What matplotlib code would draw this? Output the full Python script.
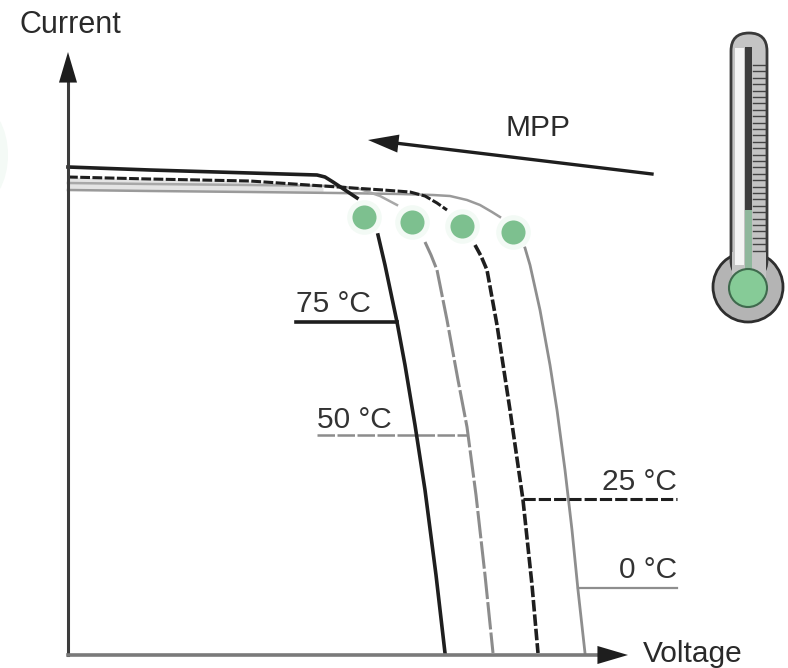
#!/usr/bin/env python3
"""
I-V curves of a solar cell at four temperatures, with the MPP shift and a thermometer.
Curve values are read off the picture, in picture pixels (y grows downwards).
"""

import numpy as np
import matplotlib

matplotlib.use("Agg")
import matplotlib.pyplot as plt
from matplotlib.patches import Circle, Ellipse, FancyBboxPatch, Rectangle

plt.rcParams["font.family"] = ["Liberation Sans", "DejaVu Sans"]

# upper part of each curve (flat, down to the dot), lower part (dot to the axis)
v0_top = [68, 150, 250, 337, 400, 433, 450, 467, 480, 492, 500]
i0_top = [190, 191, 192, 193, 194, 195, 196, 200, 205, 212, 217]
v0_low = [525, 530, 540, 550, 557, 565, 572, 578, 585]
i0_low = [248, 265, 310, 365, 410, 470, 530, 590, 653]

v25_top = [68, 150, 250, 323, 383, 410, 425, 437, 447]
i25_top = [177, 179, 181, 186, 190, 192, 196, 203, 210]
v25_low = [475, 481, 487, 497, 510, 523, 532, 538]
i25_low = [245, 256, 270, 325, 410, 500, 585, 653]

v50_top = [68, 150, 250, 337, 360, 380, 397]
i50_top = [183, 184, 185, 186, 189, 196, 205]
v50_low = [425, 431, 437, 447, 458, 467, 476, 485, 493]
i50_low = [242, 255, 270, 320, 380, 427, 495, 575, 653]

v75_top = [68, 150, 250, 317, 325, 333, 345, 357]
i75_top = [167, 170, 173, 175, 177, 182, 190, 198]
v75_low = [378, 385, 397, 405, 415, 425, 436, 445]
i75_low = [235, 265, 322, 365, 425, 490, 575, 653]

mpp_v = [364, 412, 462, 513]
mpp_i = [217, 222, 226, 232]

label_text = ["75 °C", "50 °C", "25 °C", "0 °C"]
label_x = [296, 317, 602, 619]
label_y = [312, 428, 490, 578]
leader_x = [(296, 397), (317, 467), (523, 677), (578, 677)]
leader_y = [322, 435, 499, 588]

GREEN = "#7dc08f"
HEAD = dict(arrowstyle="-|>,head_length=2.2,head_width=0.65", color="#1e1e1e", lw=0, shrinkA=0, shrinkB=0)


def draw_thermometer(ax):
    ax.add_patch(Circle((748, 287), 35, fc="#b4b4b4", ec="#2e2e2e", lw=2, zorder=2))
    ax.add_patch(FancyBboxPatch((731, 33), 36, 245, boxstyle="round,pad=0,rounding_size=18",
                                fc="#c4c4c4", ec="#3a3a3a", lw=2, zorder=3))
    ax.add_patch(Rectangle((732, 252), 34, 30, fc="#c4c4c4", ec="none", zorder=3))
    ax.add_patch(Rectangle((735, 48), 9, 217, fc="#f4f4f4", ec="none", zorder=4))
    ax.add_patch(Rectangle((745, 47), 7, 163, fc="#3c3c3c", ec="none", zorder=5))
    ax.add_patch(Rectangle((745, 210), 7, 60, fc="#8fb79c", ec="none", zorder=5))
    for y in np.arange(65, 255, 6.4):
        ax.plot([753, 765], [y, y], color="#444444", lw=1.0, zorder=5)
    ax.add_patch(Circle((748, 288), 19, fc="#86cb97", ec="#3f6a4d", lw=1.5, zorder=6))


def main():
    fig = plt.figure(figsize=(7.88, 6.68), dpi=100)
    ax = fig.add_axes([0, 0, 1, 1])
    ax.set_xlim(0, 788)
    ax.set_ylim(668, 0)
    ax.axis("off")

    ax.add_patch(Ellipse((-22, 155), 60, 100, fc="#f4faf6", ec="none", zorder=0))
    ax.fill_between(v25_top[:4], i25_top[:4], [190, 191, 192, 193], color="#e4e4e4", lw=0, zorder=1)

    dash25 = (0, (3.2, 0.8))
    dash50 = (0, (9, 1))
    ax.plot(v0_top, i0_top, color="#9a9a9a", lw=1.8, zorder=2)
    ax.plot(v0_low, i0_low, color="#8e8e8e", lw=2, zorder=2)
    ax.plot(v50_top, i50_top, color="#a8a8a8", lw=1.8, zorder=2)
    ax.plot(v50_low, i50_low, color="#8c8c8c", lw=2.2, ls=dash50, zorder=2)
    ax.plot(v25_top, i25_top, color="#1e1e1e", lw=2.2, ls=dash25, zorder=3)
    ax.plot(v25_low, i25_low, color="#1e1e1e", lw=2.6, ls=dash25, zorder=3)
    ax.plot(v75_top, i75_top, color="#1e1e1e", lw=2.6, zorder=4)
    ax.plot(v75_low, i75_low, color="#1e1e1e", lw=2.6, zorder=4)

    ax.scatter(mpp_v, mpp_i, s=620, color="#f3faf5", lw=0, zorder=5)
    ax.scatter(mpp_v, mpp_i, s=300, color=GREEN, lw=0, zorder=6)

    # axes
    ax.plot([68, 68], [655, 70], color="#3c3c3c", lw=2.2, zorder=7)
    ax.plot([68, 605], [655, 655], color="#7a7a7a", lw=2.6, zorder=7)
    ax.annotate("", xy=(68, 52), xytext=(68, 84), arrowprops=HEAD, zorder=8)
    ax.annotate("", xy=(628, 655), xytext=(596, 655), arrowprops=HEAD, zorder=8)

    # MPP arrow
    ax.plot([652, 395], [174, 143], color="#1e1e1e", lw=2.4, zorder=7)
    ax.annotate("", xy=(368, 140), xytext=(402, 144), arrowprops=HEAD, zorder=8)

    ax.text(20, 33, "Current", fontsize=22, color="#2a2a2a", va="baseline")
    ax.text(506, 136, "MPP", fontsize=21.5, color="#2a2a2a", va="baseline")
    ax.text(643, 662, "Voltage", fontsize=21.5, color="#2a2a2a", va="baseline")

    styles = [("#1e1e1e", 2.6, "-"), ("#8c8c8c", 1.8, (0, (7, 1))),
              ("#1e1e1e", 2.2, (0, (4, 1))), ("#8e8e8e", 1.6, "-")]
    for i in range(4):
        ax.text(label_x[i], label_y[i], label_text[i], fontsize=21.5, color="#333333", va="baseline")
        c, w, ls = styles[i]
        ax.plot(leader_x[i], [leader_y[i], leader_y[i]], color=c, lw=w, ls=ls, zorder=3)

    draw_thermometer(ax)

    fig.savefig("out.png", dpi=100)
    plt.close(fig)


if __name__ == "__main__":
    main()
